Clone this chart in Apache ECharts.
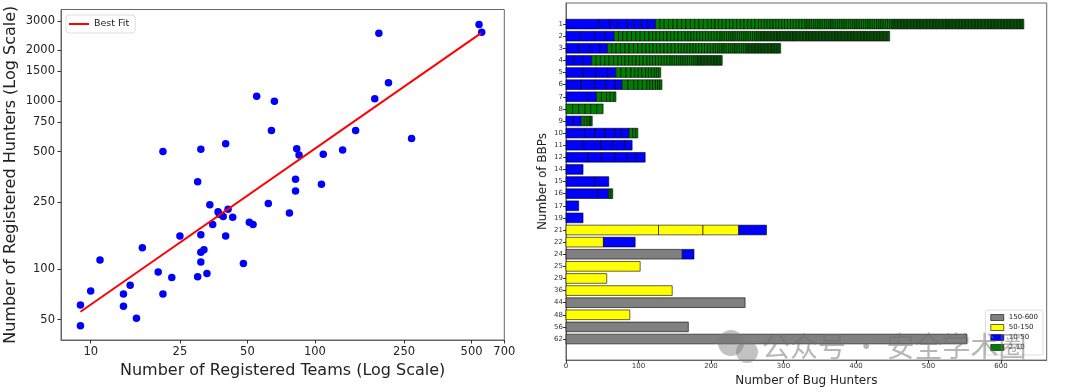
<!DOCTYPE html>
<html>
<head>
<meta charset="utf-8">
<script src="https://cdn.jsdelivr.net/npm/echarts@6/dist/echarts.min.js"></script>
<style>
html,body{margin:0;padding:0;background:#fff;}
#chart{width:1080px;height:392px;}
</style>
</head>
<body>
<div id="chart"></div>
<script>
// ---------- Left chart: teams vs hunters (log-log) ----------
const teams = [9,9,10,11,14,14,15,16,17,20,21,21,23,25,30,30,31,31,31,32,31,33,34,35,37,37.5,39,40,40,41,43,48,51,53,55,62,64,66,77,82,82,83,85,107,109,133,152,185,193,213,270,540,555];
const hunters = [61,46,74,113,71,60,80,51,134,96,71,500,89,157,331,90,516,160,126,130,110,94,241,184,219,212,205,557,157,227,203,108,190,184,1066,245,666,995,215,342,291,520,477,319,482,511,666,1032,2530,1285,597,2846,2563];
const fitTeams = [9, 551];
const fitHunters = [55.7, 2530];
const xTicksLeft = [10,25,50,100,250,500,700];
const yTicksLeft = [50,100,250,500,750,1000,1500,2000,3000];

// ---------- Right chart: hunters per number of BBPs ----------
const bbps = ['1','2','3','4','5','6','7','8','9','10','11','12','14','15','16','17','19','21','22','24','25','29','36','44','48','56','62'];
const sizeGroups = ['150-600','50-150','10-50','2-10'];
const grayRows = [[],[],[],[],[],[],[],[],[],[],[],[],[],[],[],[],[],[],[],[160.4],[],[],[],[247],[],[168.7],[553]];
const yellowRows = [[],[],[],[],[],[],[],[],[],[],[],[],[],[],[],[],[],[127.6,61.3,49.3],[51.6],[],[102.3],[56.2],[146.5],[],[88],[],[]];
const blueRows = [
  [45.2,15.6,10.6,12.5,9.6,10.6,9.3,10.1],
  [19.8,19.4,15.2,12.0],
  [17.1,15.6,14.3,10.1],
  [11.5,12.5,11.5],
  [23.0,18.5,16.6,10.6],
  [20.7,18.9,15.2,12.9,9.7],
  [30.0,11.9],
  [],
  [10.6,10.6],
  [25.8,14.3,13.8,12.9,9.7,10.6],
  [24.4,24.0,16.1,16.1,10.6],
  [30.4,18.4,18.5,16.1,12.9,12.9],
  [23.5],
  [39.6,19.4],
  [43.8,15.2],
  [17.5],
  [23.5],
  [38.3],
  [43.8],
  [16.1],
  [],[],[],[],[],[],[]
];
// green segments as [segment width, how many in a row]
const greenRuns = [
  [[6,12],[5,14],[4,16],[3,40],[2,91]],
  [[6,8],[5,10],[4,12],[3,18],[2,90]],
  [[6,8],[5,10],[4,12],[3,15],[2,24]],
  [[6,6],[5,8],[4,8],[3,12],[2,18]],
  [[7,3],[5,4],[4,3],[3,3]],
  [[8,2],[6,3],[4,3],[3,3]],
  [[7,2],[5,2],[3,1]],
  [[9.2,1],[8.3,1],[8.8,1],[7.8,1],[8.3,1],[8.8,1]],
  [[4,2],[3,1],[2,2]],
  [[5,1],[4,1],[3,1]],
  [],[],[],[],
  [[3,1],[2.5,1]],
  [],[],[],[],[],[],[],[],[],[],[],[]
];
const xTicksRight = [0,100,200,300,400,500,600];

// ---------- build segment data ----------
const greenRows = greenRuns.map(runs => {
  const out = [];
  runs.forEach(([w, n]) => { for (let k = 0; k < n; k++) out.push(w); });
  return out;
});
const colorRows = [grayRows, yellowRows, blueRows, greenRows];
const groupColors = ['#808080', '#ffff00', '#0000ff', '#008000'];
const segData = [[],[],[],[]];
bbps.forEach((_, i) => {
  let acc = 0;
  colorRows.forEach((rows, g) => {
    rows[i].forEach(w => { segData[g].push([acc, acc + w, i]); acc += w; });
  });
});

function renderSeg(color) {
  return function (params, api) {
    const s = api.coord([api.value(0), api.value(2)]);
    const e = api.coord([api.value(1), api.value(2)]);
    const h = api.size([0, 0.8])[1];
    return {
      type: 'rect',
      shape: { x: s[0], y: s[1] - h / 2, width: e[0] - s[0], height: h },
      style: { fill: color, stroke: '#000', lineWidth: 0.6 }
    };
  };
}

const chart = echarts.init(document.getElementById('chart'), null, { renderer: 'canvas' });
const font = 'DejaVu Sans';
const option = {
  animation: false,
  textStyle: { fontFamily: font },
  grid: [
    { left: 61, top: 9.5, width: 443.3, height: 330.5, show: true, borderColor: '#666', borderWidth: 1 },
    { left: 566, top: 3, width: 480.7, height: 357.7, show: true, borderColor: '#666', borderWidth: 1 }
  ],
  xAxis: [
    {
      gridIndex: 0, type: 'log', logBase: 10, min: 7.37, max: 700,
      axisLine: { show: true, onZero: false, lineStyle: { color: '#666' } },
      axisTick: { show: true, length: 3.5, customValues: xTicksLeft, lineStyle: { color: '#333' } },
      axisLabel: { customValues: xTicksLeft, formatter: v => String(Math.round(v)), fontSize: 11.5, color: '#222', margin: 6, fontFamily: font },
      splitLine: { show: false }, minorTick: { show: false },
      name: 'Number of Registered Teams (Log Scale)', nameLocation: 'middle', nameGap: 22,
      nameTextStyle: { fontSize: 16, color: '#222', fontFamily: font }
    },
    {
      gridIndex: 1, type: 'value', min: 0, max: 663,
      axisLine: { show: true, onZero: false, lineStyle: { color: '#666' } },
      axisTick: { show: true, length: 3, customValues: xTicksRight, lineStyle: { color: '#333' } },
      axisLabel: { customValues: xTicksRight, fontSize: 7, color: '#333', margin: 3, fontFamily: font },
      splitLine: { show: false },
      name: 'Number of Bug Hunters', nameLocation: 'middle', nameGap: 12,
      nameTextStyle: { fontSize: 12, color: '#222', fontFamily: font }
    }
  ],
  yAxis: [
    {
      gridIndex: 0, type: 'log', logBase: 10, min: 37.8, max: 3500,
      axisLine: { show: true, onZero: false, lineStyle: { color: '#666' } },
      axisTick: { show: true, length: 3.5, customValues: yTicksLeft, lineStyle: { color: '#333' } },
      axisLabel: { customValues: yTicksLeft, formatter: v => String(Math.round(v)), fontSize: 11.5, color: '#222', margin: 6, fontFamily: font },
      splitLine: { show: false }, minorTick: { show: false },
      name: 'Number of Registered Hunters (Log Scale)', nameLocation: 'middle', nameGap: 42,
      nameTextStyle: { fontSize: 16, color: '#222', fontFamily: font }
    },
    {
      gridIndex: 1, type: 'value', min: -1.74, max: 27.74, inverse: true,
      axisLine: { show: true, onZero: false, lineStyle: { color: '#666' } },
      axisTick: { show: true, length: 3, customValues: bbps.map((_, i) => i), lineStyle: { color: '#333' } },
      axisLabel: { customValues: bbps.map((_, i) => i), formatter: v => bbps[Math.round(v)], fontSize: 7, color: '#333', margin: 3, fontFamily: font },
      splitLine: { show: false },
      name: 'Number of BBPs', nameLocation: 'middle', nameGap: 17,
      nameTextStyle: { fontSize: 12, color: '#222', fontFamily: font }
    }
  ],
  legend: [
    {
      data: [{ name: 'Best Fit', icon: 'rect' }],
      left: 66, top: 15, orient: 'vertical',
      itemWidth: 20, itemHeight: 2, padding: [4, 6, 4, 3],
      backgroundColor: '#fff', borderColor: '#ddd', borderWidth: 1, borderRadius: 3,
      textStyle: { fontSize: 9.5, color: '#222', fontFamily: font }
    },
    {
      data: sizeGroups.map(n => ({ name: n, icon: 'rect' })),
      right: 37, bottom: 37, orient: 'vertical',
      itemWidth: 13, itemHeight: 6, itemGap: 3, padding: [4, 5, 4, 5],
      backgroundColor: '#fff', borderColor: '#ddd', borderWidth: 1, borderRadius: 2,
      textStyle: { fontSize: 7, color: '#222', fontFamily: font },
      itemStyle: { borderColor: '#000', borderWidth: 0.6 }
    }
  ],
  series: [
    {
      type: 'scatter', name: 'Teams vs Hunters', xAxisIndex: 0, yAxisIndex: 0,
      data: teams.map((t, i) => [t, hunters[i]]),
      symbolSize: 7.5, itemStyle: { color: '#0000ff', opacity: 1 }, z: 2
    },
    {
      type: 'line', name: 'Best Fit', xAxisIndex: 0, yAxisIndex: 0,
      data: fitTeams.map((t, i) => [t, fitHunters[i]]),
      showSymbol: false, symbol: 'none', lineStyle: { color: '#ff0000', width: 2 }, itemStyle: { color: '#ff0000' }, z: 3
    }
  ].concat(sizeGroups.map((name, g) => ({
    type: 'custom', name: name, xAxisIndex: 1, yAxisIndex: 1,
    renderItem: renderSeg(groupColors[g]),
    encode: { x: [0, 1], y: 2 },
    data: segData[g],
    itemStyle: { color: groupColors[g], borderColor: '#000', borderWidth: 0.6 }
  }))),
  graphic: [
    { type: 'circle', shape: { cx: 731, cy: 343, r: 13 }, style: { fill: 'rgba(120,120,120,0.45)' }, z: 100 },
    { type: 'circle', shape: { cx: 747, cy: 352, r: 11 }, style: { fill: 'rgba(120,120,120,0.45)' }, z: 100 },
    { type: 'text', left: 762, top: 332, style: { text: '公众号 · 安全学术圈', fontSize: 28, fill: 'rgba(110,110,110,0.5)', fontFamily: 'Noto Sans CJK SC' }, z: 100 }
  ]
};
chart.setOption(option);
</script>
</body>
</html>
